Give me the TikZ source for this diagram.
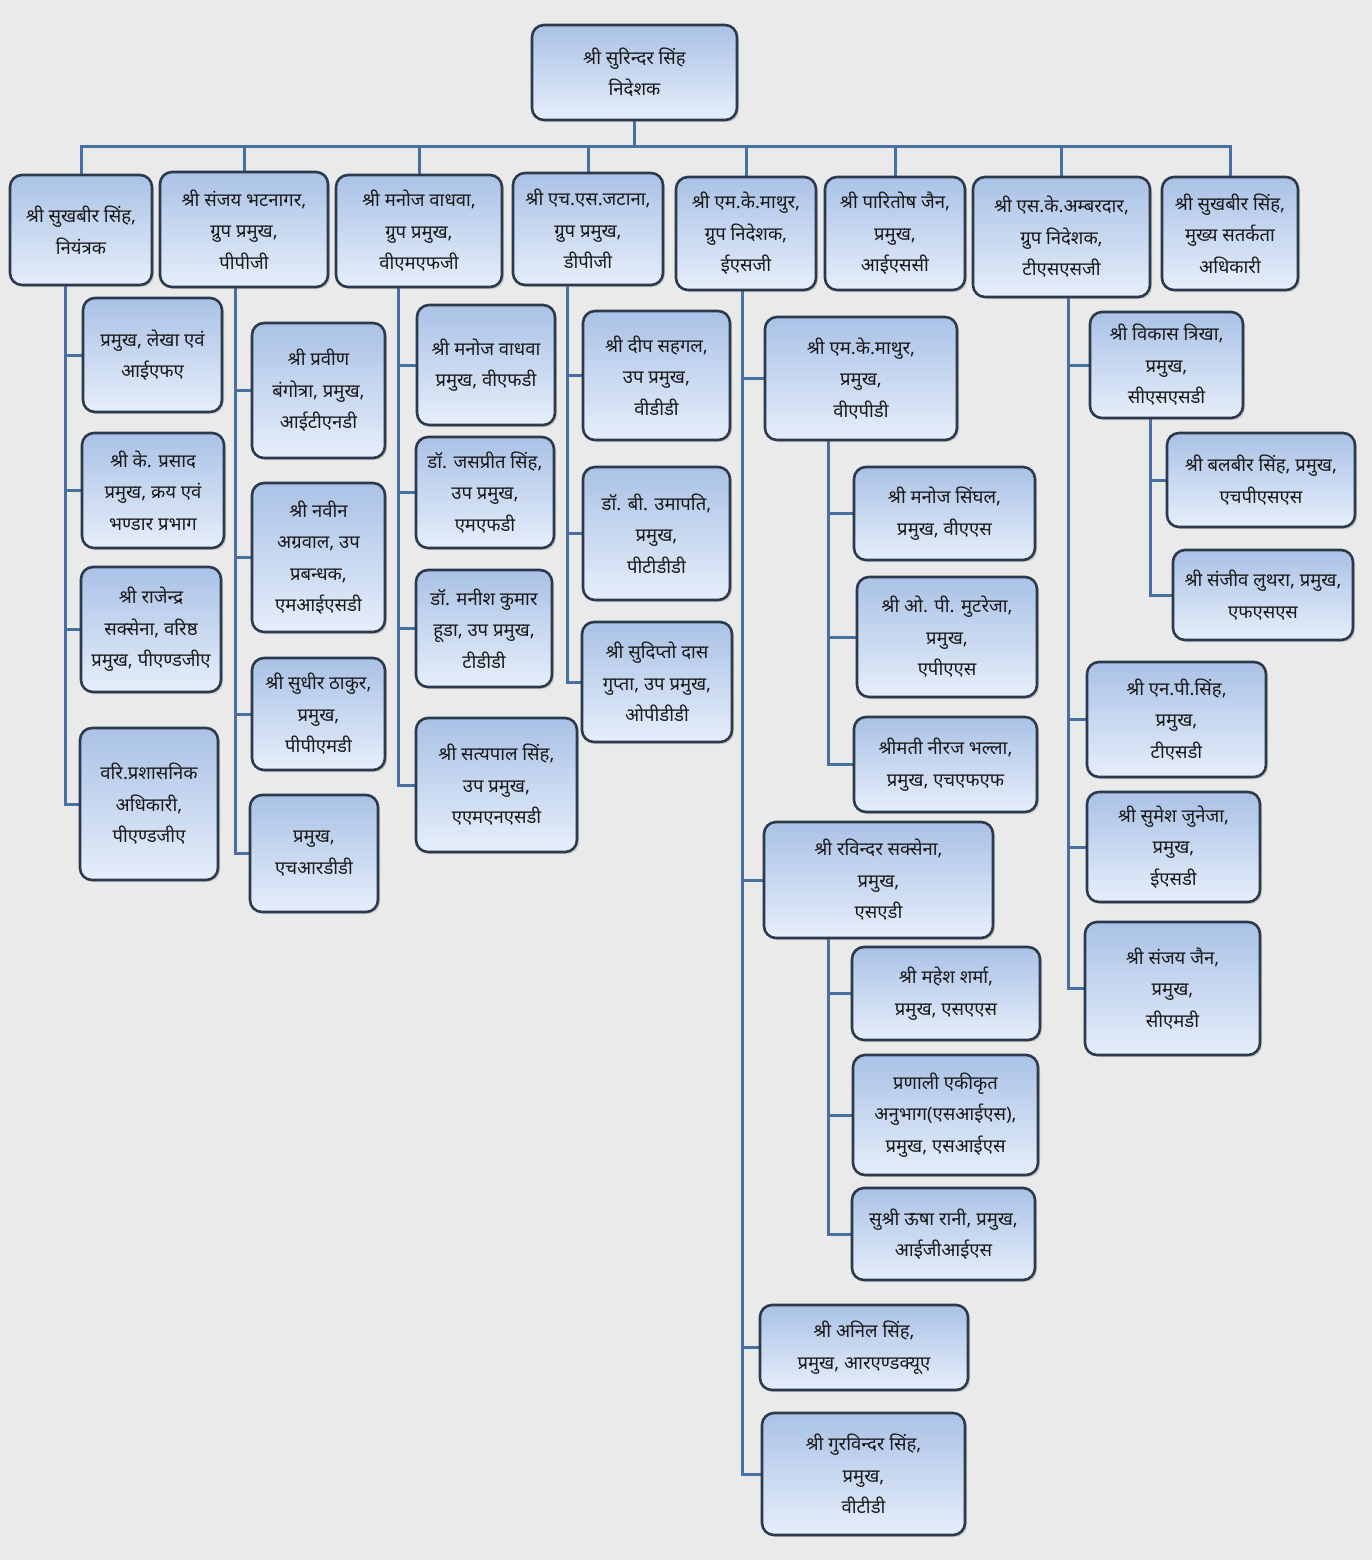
\documentclass[tikz,border=0pt]{standalone}
\usepackage{fontspec}
\newfontfamily\hindi[Script=Devanagari]{Noto Sans}
\usepackage{tikz}
\usetikzlibrary{positioning,calc,backgrounds,shadows}
\pgfdeclarelayer{background}
\pgfdeclarelayer{foreground}
\pgfsetlayers{background,main,foreground}
\definecolor{paper}{RGB}{234,234,234}
\definecolor{boxline}{RGB}{44,58,78}
\definecolor{boxtop}{RGB}{170,194,230}
\definecolor{boxbot}{RGB}{230,238,250}
\definecolor{linkblue}{RGB}{72,112,162}

\begin{document}
\begin{tikzpicture}[
  x=1pt,y=-1pt,
  box/.style={draw=boxline,line width=2.6pt,rounded corners=12pt,
    top color=boxtop,bottom color=boxbot,align=center,inner sep=2pt,
    text=black!90,font=\hindi\fontsize{18.5}{31.5}\selectfont,
    drop shadow={opacity=0.3,shadow xshift=2pt,shadow yshift=-2pt}},
  link/.style={linkblue,line width=3pt}
]

\useasboundingbox (0,0) rectangle (1372,1560);

% निदेशक
\node[box,minimum width=205,minimum height=95] (dir) at (634.5,72.5)
  {श्री सुरिन्दर सिंह\\निदेशक};

% ग्रुप
\node[box,minimum width=142,minimum height=110] (ctrl) at (81,230)
  {श्री सुखबीर सिंह,\\नियंत्रक};
\node[box,minimum width=168,minimum height=115] (ppg) at (244,229.5)
  {श्री संजय भटनागर,\\ग्रुप प्रमुख,\\पीपीजी};
\node[box,minimum width=166,minimum height=112] (vmfg) at (419,231)
  {श्री मनोज वाधवा,\\ग्रुप प्रमुख,\\वीएमएफजी};
\node[box,minimum width=150,minimum height=112] (dpg) at (588,229)
  {श्री एच.एस.जटाना,\\ग्रुप प्रमुख,\\डीपीजी};
\node[box,minimum width=140,minimum height=113] (esg) at (746,233.5)
  {श्री एम.के.माथुर,\\ग्रुप निदेशक,\\ईएसजी};
\node[box,minimum width=140,minimum height=113] (isc) at (895,233.5)
  {श्री पारितोष जैन,\\प्रमुख,\\आईएससी};
\node[box,minimum width=177,minimum height=120] (tssg) at (1061.5,237)
  {श्री एस.के.अम्बरदार,\\ग्रुप निदेशक,\\टीएसएसजी};
\node[box,minimum width=136,minimum height=113] (cvo) at (1230,233.5)
  {श्री सुखबीर सिंह,\\मुख्य सतर्कता\\अधिकारी};

% नियंत्रक के नीचे
\node[box,minimum width=139,minimum height=114] (ifa) at (152.5,355)
  {प्रमुख, लेखा एवं\\आईएफए};
\node[box,minimum width=142,minimum height=115] (purch) at (153,490.5)
  {श्री के. प्रसाद\\प्रमुख, क्रय एवं\\भण्डार प्रभाग};
\node[box,minimum width=140,minimum height=125] (pga) at (151,629.5)
  {श्री राजेन्द्र\\सक्सेना, वरिष्ठ\\प्रमुख, पीएण्डजीए};
\node[box,minimum width=138,minimum height=152] (admin) at (149,804)
  {वरि.प्रशासनिक\\अधिकारी,\\पीएण्डजीए};

% पीपीजी
\node[box,minimum width=133,minimum height=135] (itnd) at (318.5,390.5)
  {श्री प्रवीण\\बंगोत्रा, प्रमुख,\\आईटीएनडी};
\node[box,minimum width=133,minimum height=149] (misd) at (318.5,557.5)
  {श्री नवीन\\अग्रवाल, उप\\प्रबन्धक,\\एमआईएसडी};
\node[box,minimum width=133,minimum height=112] (ppmd) at (318.5,714)
  {श्री सुधीर ठाकुर,\\प्रमुख,\\पीपीएमडी};
\node[box,minimum width=128,minimum height=117] (hrdd) at (314,853.5)
  {प्रमुख,\\एचआरडीडी};

% वीएमएफजी
\node[box,minimum width=138,minimum height=120] (vfd) at (486,365)
  {श्री मनोज वाधवा\\प्रमुख, वीएफडी};
\node[box,minimum width=138,minimum height=111] (mfd) at (485,492.5)
  {डॉ. जसप्रीत सिंह,\\उप प्रमुख,\\एमएफडी};
\node[box,minimum width=136,minimum height=117] (tdd) at (484,628.5)
  {डॉ. मनीश कुमार\\हूडा, उप प्रमुख,\\टीडीडी};
\node[box,minimum width=161,minimum height=134] (amnsd) at (496.5,785)
  {श्री सत्यपाल सिंह,\\उप प्रमुख,\\एएमएनएसडी};

% डीपीजी
\node[box,minimum width=147,minimum height=129] (vdd) at (656.5,375.5)
  {श्री दीप सहगल,\\उप प्रमुख,\\वीडीडी};
\node[box,minimum width=147,minimum height=133] (ptdd) at (656.5,533.5)
  {डॉ. बी. उमापति,\\प्रमुख,\\पीटीडीडी};
\node[box,minimum width=150,minimum height=120] (opdd) at (657,682)
  {श्री सुदिप्तो दास\\गुप्ता, उप प्रमुख,\\ओपीडीडी};

% ईएसजी
\node[box,minimum width=192,minimum height=123] (vapd) at (861,378.5)
  {श्री एम.के.माथुर,\\प्रमुख,\\वीएपीडी};
\node[box,minimum width=181,minimum height=93] (vas) at (944.5,513.5)
  {श्री मनोज सिंघल,\\प्रमुख, वीएएस};
\node[box,minimum width=180,minimum height=120] (apas) at (947,637)
  {श्री ओ. पी. मुटरेजा,\\प्रमुख,\\एपीएएस};
\node[box,minimum width=183,minimum height=95] (hff) at (945.5,764.5)
  {श्रीमती नीरज भल्ला,\\प्रमुख, एचएफएफ};
\node[box,minimum width=229,minimum height=116] (sad) at (878.5,880)
  {श्री रविन्दर सक्सेना,\\प्रमुख,\\एसएडी};
\node[box,minimum width=188,minimum height=93] (sas) at (946,993.5)
  {श्री महेश शर्मा,\\प्रमुख, एसएएस};
\node[box,minimum width=185,minimum height=120] (sis) at (945.5,1115)
  {प्रणाली एकीकृत\\अनुभाग(एसआईएस),\\प्रमुख, एसआईएस};
\node[box,minimum width=183,minimum height=92] (igis) at (943.5,1234)
  {सुश्री ऊषा रानी, प्रमुख,\\आईजीआईएस};
\node[box,minimum width=208,minimum height=85] (rqa) at (864,1347.5)
  {श्री अनिल सिंह,\\प्रमुख, आरएण्डक्यूए};
\node[box,minimum width=203,minimum height=122] (vtd) at (863.5,1474)
  {श्री गुरविन्दर सिंह,\\प्रमुख,\\वीटीडी};

% टीएसएसजी
\node[box,minimum width=153,minimum height=106] (cssd) at (1166.5,365)
  {श्री विकास त्रिखा,\\प्रमुख,\\सीएसएसडी};
\node[box,minimum width=188,minimum height=94] (hpss) at (1261,480)
  {श्री बलबीर सिंह, प्रमुख,\\एचपीएसएस};
\node[box,minimum width=180,minimum height=90] (fss) at (1263,595)
  {श्री संजीव लुथरा, प्रमुख,\\एफएसएस};
\node[box,minimum width=179,minimum height=115] (tsd) at (1176.5,719.5)
  {श्री एन.पी.सिंह,\\प्रमुख,\\टीएसडी};
\node[box,minimum width=173,minimum height=110] (esd) at (1173.5,847)
  {श्री सुमेश जुनेजा,\\प्रमुख,\\ईएसडी};
\node[box,minimum width=175,minimum height=133] (cmd) at (1172.5,988.5)
  {श्री संजय जैन,\\प्रमुख,\\सीएमडी};

% रेखाएँ
\begin{pgfonlayer}{background}
  \fill[paper] (0,0) rectangle (1372,1560);

  \coordinate (bus) at ([yshift=-25pt]dir.south);
  \draw[link] (dir.south) -- (bus);
  \foreach \n in {ctrl,ppg,vmfg,dpg,esg,isc,tssg,cvo}
    \draw[link] (bus) -| (\n.north);

  \coordinate (s1) at ([xshift=-16pt]ctrl.south);
  \coordinate (s2) at ([xshift=-9pt]ppg.south);
  \coordinate (s3) at ([xshift=-21pt]vmfg.south);
  \coordinate (s4) at ([xshift=-21pt]dpg.south);
  \coordinate (s5) at ([xshift=-4pt]esg.south);
  \coordinate (s7) at ([xshift=6.5pt]tssg.south);
  \coordinate (s51) at ([xshift=-33pt]vapd.south);
  \coordinate (s52) at ([xshift=-50.5pt]sad.south);
  \coordinate (s71) at ([xshift=-16.5pt]cssd.south);

  \foreach \n in {ifa,purch,pga,admin} \draw[link] (s1) |- (\n.west);
  \foreach \n in {itnd,misd,ppmd,hrdd} \draw[link] (s2) |- (\n.west);
  \foreach \n in {vfd,mfd,tdd,amnsd} \draw[link] (s3) |- (\n.west);
  \foreach \n in {vdd,ptdd,opdd} \draw[link] (s4) |- (\n.west);
  \foreach \n in {vapd,sad,rqa,vtd} \draw[link] (s5) |- (\n.west);
  \foreach \n in {vas,apas,hff} \draw[link] (s51) |- (\n.west);
  \foreach \n in {sas,sis,igis} \draw[link] (s52) |- (\n.west);
  \foreach \n in {cssd,tsd,esd,cmd} \draw[link] (s7) |- (\n.west);
  \foreach \n in {hpss,fss} \draw[link] (s71) |- (\n.west);
\end{pgfonlayer}

\end{tikzpicture}
\end{document}
